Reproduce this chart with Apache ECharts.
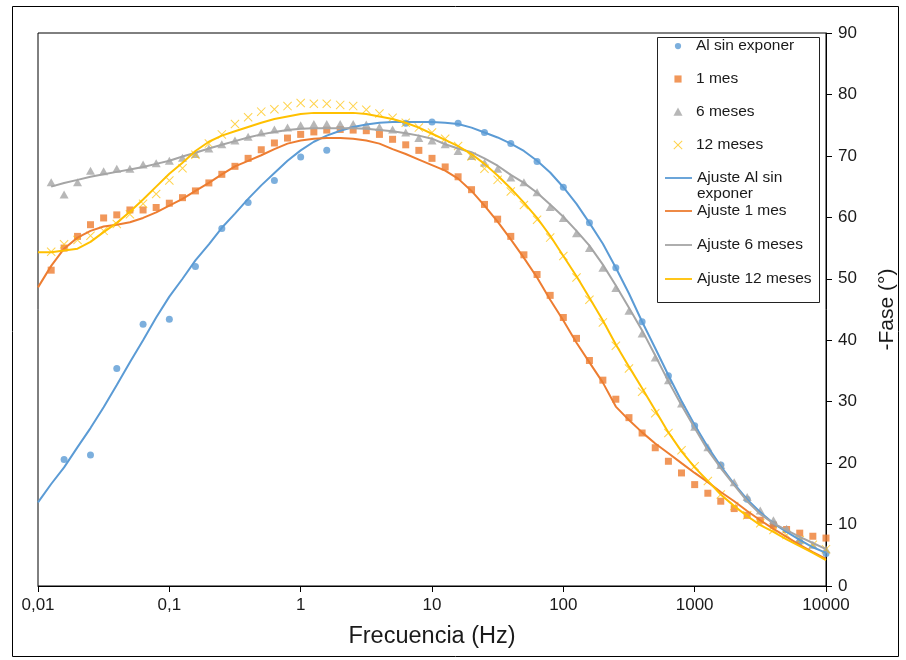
<!DOCTYPE html>
<html><head><meta charset="utf-8">
<script src="https://cdn.jsdelivr.net/npm/echarts@6/dist/echarts.min.js"></script>
<style>html,body{margin:0;padding:0;background:#fff}#c{width:906px;height:660px}</style>
</head><body><div id="c"></div><script>
const FF = "'Liberation Sans', Arial, sans-serif";
const TXT = '#1a1a1a';

const xTickValues = [0.01, 0.1, 1, 10, 100, 1000, 10000];
const xTickLabels = ['0,01', '0,1', '1', '10', '100', '1000', '10000'];

const fitFreq = [0.01, 0.0126, 0.0158, 0.02, 0.0251, 0.0316, 0.0398, 0.0501, 0.0631, 0.0794,
  0.1, 0.126, 0.158, 0.2, 0.251, 0.316, 0.398, 0.501, 0.631, 0.794,
  1, 1.26, 1.58, 2, 2.51, 3.16, 3.98, 5.01, 6.31, 7.94,
  10, 12.6, 15.8, 20, 25.1, 31.6, 39.8, 50.1, 63.1, 79.4,
  100, 126, 158, 200, 251, 316, 398, 501, 631, 794,
  1000, 1260, 1580, 2000, 2510, 3160, 3980, 5010, 6310, 7940, 10000];

const dataFreq = [0.0126, 0.0158, 0.02, 0.0251, 0.0316, 0.0398, 0.0501, 0.0631, 0.0794,
  0.1, 0.126, 0.158, 0.2, 0.251, 0.316, 0.398, 0.501, 0.631, 0.794,
  1, 1.26, 1.58, 2, 2.51, 3.16, 3.98, 5.01, 6.31, 7.94,
  10, 12.6, 15.8, 20, 25.1, 31.6, 39.8, 50.1, 63.1, 79.4,
  100, 126, 158, 200, 251, 316, 398, 501, 631, 794,
  1000, 1260, 1580, 2000, 2510, 3160, 3980, 5010, 6310, 7940, 10000];

const alFreq = [0.0158, 0.0251, 0.0398, 0.0631, 0.1, 0.158, 0.251, 0.398, 0.631, 1, 1.58,
  6.31, 10, 15.8, 25.1, 39.8, 63.1, 100, 158, 251, 398, 631, 1000, 1585, 2512, 3981, 6310, 10000];
const alValues = [20.6, 21.3, 35.4, 42.6, 43.4, 52.0, 58.2, 62.4, 66.0, 69.8, 70.9,
  75.3, 75.5, 75.3, 73.8, 72.0, 69.1, 64.9, 59.1, 51.8, 43.0, 34.2, 26.1, 19.7, 14.1, 10.1, 7.2, 5.3];

const mes1Values = [51.4, 55.0, 56.9, 58.8, 59.9, 60.4, 61.2, 61.2, 61.6, 62.3,
  63.2, 64.3, 65.6, 67.0, 68.3, 69.6, 71.0, 72.1, 72.9, 73.5,
  73.9, 74.2, 74.3, 74.2, 74.1, 73.5, 72.7, 71.8, 70.9, 69.6,
  68.2, 66.6, 64.5, 62.1, 59.7, 56.9, 53.9, 50.7, 47.3, 43.7,
  40.3, 36.7, 33.5, 30.4, 27.4, 24.9, 22.5, 20.3, 18.4, 16.5,
  15.1, 13.8, 12.6, 11.5, 10.7, 9.9, 9.2, 8.6, 8.1, 7.8];

const mes6Values = [65.7, 63.7, 65.7, 67.6, 67.5, 67.9, 67.9, 68.6, 68.8, 69.2,
  69.7, 70.3, 71.2, 71.9, 72.5, 73.1, 73.8, 74.3, 74.6, 75.0,
  75.2, 75.2, 75.2, 75.2, 75.1, 74.7, 74.3, 73.8, 72.9, 72.5,
  71.9, 70.8, 70.0, 68.9, 67.9, 66.5, 65.7, 64.1, 61.7, 59.9,
  57.4, 55.0, 51.8, 48.5, 44.8, 41.1, 37.2, 33.5, 29.7, 25.9,
  22.6, 19.7, 16.9, 14.5, 12.3, 10.7, 9.3, 7.7, 6.7, 6.0];

const mes12Values = [54.4, 55.6, 56.3, 57.0, 57.8, 58.9, 60.5, 62.2, 63.8, 66.0,
  68.0, 70.2, 72.0, 73.5, 75.2, 76.3, 77.2, 77.6, 78.1, 78.6,
  78.5, 78.5, 78.3, 78.1, 77.5, 76.9, 76.2, 75.4, 74.6, 73.8,
  72.8, 71.6, 69.9, 67.9, 66.1, 64.2, 62.0, 59.6, 56.7, 53.7,
  50.2, 46.6, 42.9, 39.1, 35.4, 31.6, 28.1, 24.9, 22.1, 19.5,
  17.1, 14.9, 13.0, 11.5, 10.2, 9.1, 8.3, 7.5, 6.7, 6.0];

const fitAlValues = [13.6, 16.6, 19.3, 22.6, 25.7, 29.1, 32.7, 36.4, 40.0, 43.7,
  47.1, 50.0, 53.0, 55.6, 58.3, 60.6, 63.0, 65.2, 67.2, 69.2,
  70.9, 72.3, 73.3, 74.1, 74.7, 75.1, 75.4, 75.5, 75.5, 75.5,
  75.5, 75.4, 75.2, 74.6, 73.8, 73.0, 72.0, 70.8, 69.2, 67.3,
  64.9, 62.2, 59.1, 55.7, 51.8, 47.6, 43.0, 38.7, 34.3, 30.1,
  26.2, 22.6, 19.5, 16.6, 14.1, 12.0, 10.2, 8.8, 7.5, 6.3, 5.4];

const fit1Values = [48.6, 52.1, 54.9, 56.7, 57.8, 58.5, 58.8, 59.2, 59.9, 60.8,
  61.9, 63.0, 64.3, 65.6, 67.0, 68.3, 69.2, 70.1, 71.1, 72.0,
  72.5, 72.8, 72.9, 72.9, 72.8, 72.5, 72.0, 71.1, 70.3, 69.4,
  68.5, 67.6, 66.3, 64.3, 61.9, 59.3, 56.4, 53.4, 50.2, 46.6,
  43.2, 39.6, 36.4, 33.1, 29.2, 27.0, 25.0, 23.2, 21.6, 20.0,
  18.4, 16.9, 15.3, 13.8, 12.2, 10.7, 9.3, 8.0, 6.7, 5.5, 4.4];

const fit6Values = [65.0, 65.6, 66.1, 66.6, 67.0, 67.4, 67.8, 68.2, 68.7,
  69.2, 69.9, 70.5, 71.2, 71.8, 72.4, 73.0, 73.5, 73.9, 74.2,
  74.4, 74.5, 74.5, 74.5, 74.5, 74.4, 74.2, 74.0, 73.7, 73.3,
  72.8, 71.9, 71.2, 70.6, 69.6, 68.4, 66.9, 65.6, 64.0, 62.1,
  60.1, 57.8, 55.4, 52.3, 48.9, 45.3, 41.6, 37.5, 33.3, 29.4,
  25.7, 22.1, 19.2, 16.4, 13.8, 11.7, 10.2, 9.1, 8.0, 7.0, 6.0];

const fit12Values = [54.3, 54.3, 54.6, 54.9, 56.0, 57.6, 59.1, 60.9, 62.9, 65.0,
  67.1, 68.9, 70.8, 72.3, 73.3, 74.0, 74.7, 75.4, 76.0, 76.4,
  76.8, 77.0, 77.0, 77.0, 77.0, 76.8, 76.4, 76.0, 75.4, 74.6,
  73.6, 72.6, 71.6, 70.3, 68.7, 66.8, 64.7, 62.4, 59.9, 57.0,
  53.7, 50.4, 46.9, 43.2, 39.3, 35.7, 32.2, 28.6, 25.0, 21.9,
  19.3, 17.1, 14.9, 13.0, 11.4, 9.9, 8.8, 7.6, 6.5, 5.4, 4.2];

function pairs(xs, ys) { return xs.map((x, i) => [x, ys[i]]); }

const C_BLUE = '#5B9BD5', C_ORANGE = '#ED7D31', C_GRAY = '#A5A5A5', C_YELLOW = '#FFC000';
const X_PATH = 'path://M0,0.8L0.8,0L10,9.2L9.2,10ZM9.2,0L10,0.8L0.8,10L0,9.2Z';
const LINE_ICON = 'path://M0,0H27V1.8H0Z';

const chart = echarts.init(document.getElementById('c'));
const legendText = { fontSize: 15.5, color: TXT, fontFamily: FF, lineHeight: 14 };
chart.setOption({
  animation: false,
  textStyle: { fontFamily: FF },
  grid: { left: 38, right: 78, top: 33, bottom: 74, show: true, borderColor: '#000', borderWidth: 1 },
  xAxis: {
    type: 'log', logBase: 10, min: 0.01, max: 10000,
    name: 'Frecuencia (Hz)', nameLocation: 'middle', nameGap: 39,
    nameTextStyle: { fontSize: 23.5, color: TXT, fontFamily: FF },
    axisLine: { show: true, onZero: false, lineStyle: { color: '#000', width: 1 } },
    axisTick: { show: true, inside: false, length: 6, lineStyle: { color: '#000' } },
    minorTick: { show: false }, splitLine: { show: false }, minorSplitLine: { show: false },
    axisLabel: {
      fontSize: 17, color: TXT, margin: 11,
      formatter: function (v) {
        const i = xTickValues.findIndex(t => Math.abs(Math.log10(t) - Math.log10(v)) < 1e-6);
        return i >= 0 ? xTickLabels[i] : '';
      }
    }
  },
  yAxis: {
    type: 'value', position: 'right', min: 0, max: 90, interval: 10,
    name: '-Fase (°)', nameLocation: 'middle', nameRotate: 90, nameGap: 51,
    nameTextStyle: { fontSize: 21, color: TXT, fontFamily: FF },
    axisLine: { show: true, lineStyle: { color: '#000', width: 1 } },
    axisTick: { show: true, inside: false, length: 6, lineStyle: { color: '#000' } },
    splitLine: { show: false },
    axisLabel: { fontSize: 17, color: TXT, margin: 12 }
  },
  legend: [
    {
      orient: 'vertical', left: 673, top: 38, padding: 0, itemWidth: 26, itemHeight: 10, itemGap: 17,
      textStyle: legendText, selectedMode: false,
      data: [
        { name: 'Al sin exponer', icon: 'path://M-3,-3M13,13M0,5A5,5,0,1,1,10,5A5,5,0,1,1,0,5Z' },
        { name: '1 mes', icon: 'path://M-2,-2M12,12M0,0H10V10H0Z' },
        { name: '6 meses', icon: 'path://M-0.5,-0.5M10.5,10.5M5,0L10,9L0,9Z' },
        { name: '12 meses', icon: 'path://M-0.5,-0.5M10.5,10.5M0,0.8L0.8,0L10,9.2L9.2,10ZM9.2,0L10,0.8L0.8,10L0,9.2Z' }
      ]
    },
    {
      orient: 'vertical', left: 665, top: 170, padding: 0, itemWidth: 27, itemHeight: 14, itemGap: 18,
      textStyle: legendText, selectedMode: false,
      formatter: n => n === 'Ajuste Al sin exponer' ? 'Ajuste Al sin' : n,
      data: [{ name: 'Ajuste Al sin exponer', icon: LINE_ICON }]
    },
    {
      orient: 'vertical', left: 665, top: 203, padding: 0, itemWidth: 27, itemHeight: 14, itemGap: 18,
      textStyle: legendText, selectedMode: false,
      data: [
        { name: 'Ajuste 1 mes', icon: LINE_ICON },
        { name: 'Ajuste 6 meses', icon: LINE_ICON },
        { name: 'Ajuste 12 meses', icon: LINE_ICON }
      ]
    }
  ],
  graphic: [
    { type: 'rect', silent: true, shape: { x: 12.5, y: 6.5, width: 886, height: 650 }, style: { fill: 'none', stroke: '#000', lineWidth: 1 } },
    { type: 'rect', silent: true, shape: { x: 657.5, y: 37.5, width: 162, height: 265 }, style: { fill: 'none', stroke: '#222', lineWidth: 1 } },
    { type: 'text', silent: true, left: 697, top: 186, style: { text: 'exponer', fontSize: 15.5, fontFamily: FF, fill: TXT } }
  ],
  series: [
    { name: 'Al sin exponer', type: 'scatter', data: pairs(alFreq, alValues), symbol: 'circle', symbolSize: 7, itemStyle: { color: C_BLUE } },
    { name: '1 mes', type: 'scatter', data: pairs(dataFreq, mes1Values), symbol: 'rect', symbolSize: 7, itemStyle: { color: C_ORANGE } },
    { name: '6 meses', type: 'scatter', data: pairs(dataFreq, mes6Values), symbol: 'triangle', symbolSize: [9, 8], itemStyle: { color: C_GRAY } },
    { name: '12 meses', type: 'scatter', data: pairs(dataFreq, mes12Values), symbol: X_PATH, symbolSize: 9, itemStyle: { color: C_YELLOW, opacity: 0.7 } },
    { name: 'Ajuste Al sin exponer', type: 'line', data: pairs(fitFreq, fitAlValues), symbol: 'none', lineStyle: { color: C_BLUE, width: 2 }, itemStyle: { color: C_BLUE } },
    { name: 'Ajuste 1 mes', type: 'line', data: pairs(fitFreq, fit1Values), symbol: 'none', lineStyle: { color: C_ORANGE, width: 2 }, itemStyle: { color: C_ORANGE } },
    { name: 'Ajuste 6 meses', type: 'line', data: pairs(dataFreq, fit6Values), symbol: 'none', lineStyle: { color: C_GRAY, width: 2 }, itemStyle: { color: C_GRAY } },
    { name: 'Ajuste 12 meses', type: 'line', data: pairs(fitFreq, fit12Values), symbol: 'none', lineStyle: { color: C_YELLOW, width: 2 }, itemStyle: { color: C_YELLOW } }
  ]
});
</script></body></html>
